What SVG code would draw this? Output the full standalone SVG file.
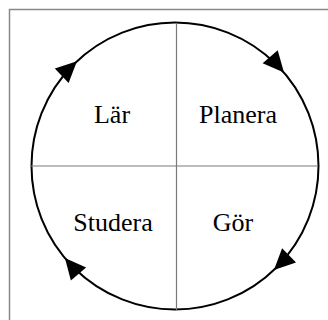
<svg xmlns="http://www.w3.org/2000/svg" width="328" height="320" viewBox="0 0 328 320">
<style>
.lbl{font-family:"Liberation Serif","Times New Roman",serif;font-size:26px;fill:#000;text-anchor:middle}
.div{stroke:#7a7a7a;stroke-width:1.2;fill:none}
.ah{fill:#000}
</style>
<defs>
<polygon id="head" points="176,22.5 155,12.5 155,32.5"/>
</defs>
<rect width="328" height="320" fill="#fff"/>
<path d="M9.5,320 V9.5 H328" stroke="#888" stroke-width="1.5" fill="none"/>
<g id="connectors">
<circle cx="175" cy="166" r="143.5" fill="none" stroke="#000" stroke-width="2"/>
<line class="div" x1="176.5" y1="23" x2="176.5" y2="310"/>
<line class="div" x1="31" y1="166" x2="318" y2="166"/>
<use href="#head" class="ah" transform="rotate(49 175 166)"/>
<use href="#head" class="ah" transform="rotate(136 175 166)"/>
<use href="#head" class="ah" transform="rotate(229.7 175 166)"/>
<use href="#head" class="ah" transform="rotate(316.5 175 166)"/>
</g>
<g id="lar"><text class="lbl" x="112" y="123">Lär</text></g>
<g id="planera"><text class="lbl" x="238" y="123">Planera</text></g>
<g id="studera"><text class="lbl" x="113" y="231">Studera</text></g>
<g id="gor"><text class="lbl" x="233" y="231">Gör</text></g>
</svg>
